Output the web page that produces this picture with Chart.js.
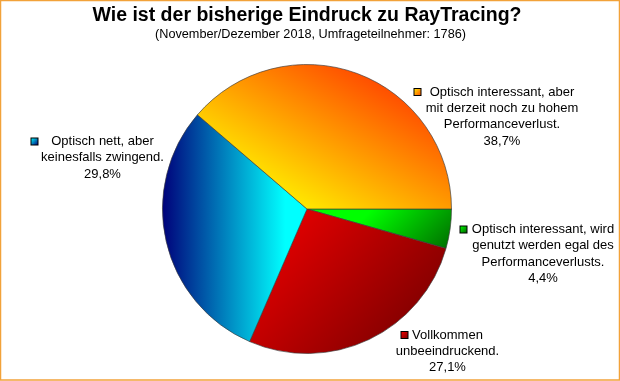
<!DOCTYPE html>
<html>
<head>
<meta charset="utf-8">
<script src="https://cdn.jsdelivr.net/npm/chart.js@4"></script>
<style>
  html, body { margin: 0; padding: 0; background: #fff; }
</style>
</head>
<body>
<canvas id="pieChart" width="620" height="381"></canvas>
<script>
// Data (clockwise, starting at 3 o'clock)
const categories = [
    ['Optisch interessant, wird', 'genutzt werden egal des', 'Performanceverlusts.'],
    ['Vollkommen', 'unbeeindruckend.'],
    ['Optisch nett, aber', 'keinesfalls zwingend.'],
    ['Optisch interessant, aber', 'mit derzeit noch zu hohem', 'Performanceverlust.']
];
const shares = [4.4, 27.1, 29.8, 38.7];
const titleText = 'Wie ist der bisherige Eindruck zu RayTracing?';
const subtitleText = '(November/Dezember 2018, Umfrageteilnehmer: 1786)';

// light -> dark colour of each slice gradient
const gradStops = [
    ['#00FF00', '#005E00'],
    ['#F40000', '#7A0000'],
    ['#00FFFF', '#00007A'],
    ['#FFE800', '#FF4E00']
];

function sliceGradient(ctx, i, cx, cy, r) {
    let g;
    if (i === 0) {
        g = ctx.createLinearGradient(cx + 0.55 * r, cy - 0.1 * r, cx + r, cy + 0.35 * r);
    } else if (i === 1) {
        g = ctx.createLinearGradient(cx - 0.35 * r, cy, cx + 0.75 * r, cy + 0.95 * r);
    } else if (i === 2) {
        g = ctx.createLinearGradient(cx - 0.15 * r, cy, cx - r, cy);
    } else {
        g = ctx.createLinearGradient(cx, cy, cx + 0.5 * r, cy - 0.87 * r);
    }
    g.addColorStop(0, gradStops[i][0]);
    g.addColorStop(1, gradStops[i][1]);
    return g;
}

// text centre x, first line y, marker centre x
const labelPos = [
    { x: 543, y: 229.5, mx: 463.5 },
    { x: 447.5, y: 335, mx: 404.5 },
    { x: 102.5, y: 141.5, mx: 34.5 },
    { x: 502, y: 92, mx: 417.5 }
];

const decorPlugin = {
    id: 'decor',
    beforeDraw(chart) {
        const ctx = chart.ctx;
        ctx.save();
        ctx.fillStyle = '#ffffff';
        ctx.fillRect(0, 0, chart.width, chart.height);
        ctx.restore();
    },
    afterDraw(chart) {
        const ctx = chart.ctx;
        ctx.save();
        ctx.fillStyle = '#000';
        ctx.textAlign = 'center';
        ctx.textBaseline = 'alphabetic';
        ctx.font = 'bold 19.5px "Liberation Sans", Arial, sans-serif';
        ctx.fillText(titleText, 307, 21);
        ctx.font = '12.7px "Liberation Sans", Arial, sans-serif';
        ctx.fillText(subtitleText, 310.5, 38);

        ctx.font = '13px "Liberation Sans", Arial, sans-serif';
        ctx.textBaseline = 'middle';
        categories.forEach((lines, i) => {
            const p = labelPos[i];
            const all = lines.concat([shares[i].toFixed(1).replace('.', ',') + '%']);
            all.forEach((t, k) => ctx.fillText(t, p.x, p.y + k * 16.4));
            // legend-like marker
            const g = ctx.createLinearGradient(p.mx - 3.5, p.y - 3.5, p.mx + 3.5, p.y + 3.5);
            g.addColorStop(0, gradStops[i][0]);
            g.addColorStop(1, gradStops[i][1]);
            ctx.fillStyle = g;
            ctx.fillRect(p.mx - 3.5, p.y - 3.5, 7, 7);
            ctx.strokeStyle = '#000';
            ctx.lineWidth = 1;
            ctx.strokeRect(p.mx - 3.5, p.y - 3.5, 7, 7);
            ctx.fillStyle = '#000';
        });

        // outer frame
        ctx.strokeStyle = '#F2A23A';
        ctx.lineWidth = 1.5;
        ctx.strokeRect(0.5, 0.5, chart.width - 1, chart.height - 1.5);
        ctx.restore();
    }
};

const ctx = document.getElementById('pieChart').getContext('2d');
new Chart(ctx, {
    type: 'pie',
    data: {
        labels: categories,
        datasets: [{
            data: shares,
            backgroundColor: (c) => {
                const a = c.chart.chartArea;
                if (!a) return gradStops[c.dataIndex][0];
                const cx = (a.left + a.right) / 2;
                const cy = (a.top + a.bottom) / 2;
                const r = Math.min(a.width, a.height) / 2;
                return sliceGradient(c.chart.ctx, c.dataIndex, cx, cy, r);
            },
            borderColor: 'rgba(60,60,60,0.65)',
            borderWidth: 1
        }]
    },
    options: {
        responsive: false,
        animation: false,
        rotation: 90,
        layout: {
            padding: { left: 162, right: 168, top: 64, bottom: 27 }
        },
        plugins: {
            legend: { display: false },
            tooltip: { enabled: false },
            title: { display: false }
        }
    },
    plugins: [decorPlugin]
});
</script>
</body>
</html>
